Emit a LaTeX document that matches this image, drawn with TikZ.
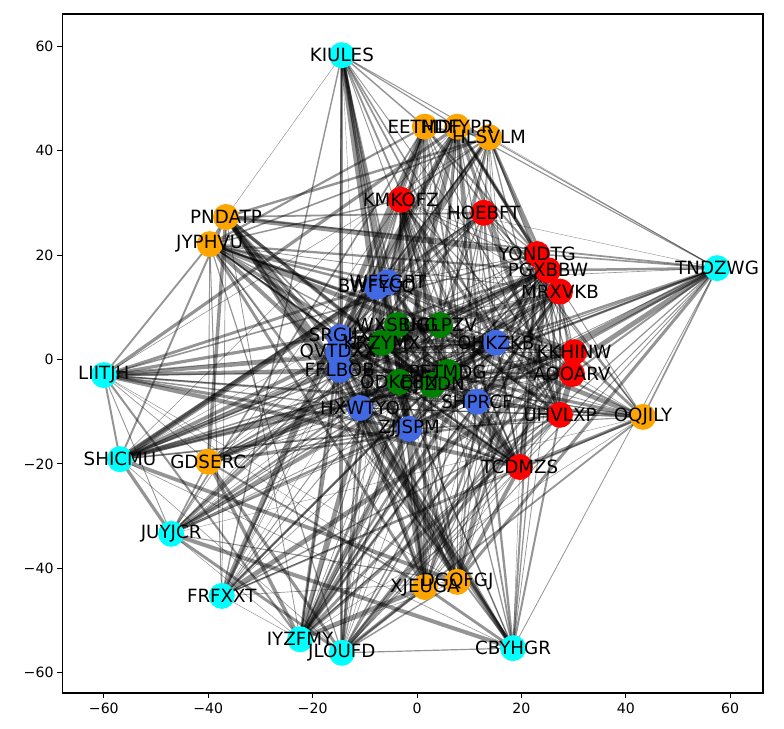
\documentclass[tikz,border=0pt]{standalone}
\usepackage{fontspec}
\setmainfont{DejaVu Sans}
\definecolor{nred}{HTML}{FF0000}
\definecolor{norange}{HTML}{FFA500}
\definecolor{ncyan}{HTML}{00FFFF}
\definecolor{nblue}{HTML}{4169E1}
\definecolor{ngreen}{HTML}{008000}
\tikzset{
  vertex/.style={
    circle,
    inner sep=0pt,
    minimum size=0.66cm
  },
  vlabel/.style={
    inner sep=0pt,
    font=\fontsize{13.2}{15}\selectfont
  },
  edge/.style={draw=black, opacity=0.42},
  ticklabel/.style={inner sep=0pt, font=\fontsize{10.2}{12}\selectfont}
}
% name/x/y/colour
\def\vertlist{KIULES/-14.4/58.3/ncyan, EETMDF/1.5/44.6/norange, HDFYPR/7.7/44.6/norange,
HLSVLM/13.8/42.6/norange, KMKOFZ/-3.1/30.6/nred, HOEBFT/12.8/28.1/nred,
PNDATP/-36.6/27.3/norange, JYPHVU/-39.7/22.1/norange, YONDTG/23.0/20.2/nred,
PGXBBW/25.1/17.1/nred, MRXVKB/27.4/13.0/nred, TNDZWG/57.5/17.5/ncyan,
BWFYCQ/-7.7/13.9/nblue, WFEGPT/-5.6/14.8/nblue, SRGIJX/-14.8/4.3/nblue,
QVTDXX/-15.1/1.4/nblue, FFLBOB/-14.8/-2.0/nblue, WXSBHG/-3.8/6.6/ngreen,
KRZYMX/-6.7/3.2/ngreen, UGLPZV/4.4/6.6/ngreen, PETMDG/5.9/-2.4/ngreen,
ODKEBN/-3.4/-4.3/ngreen, QJIZDN/2.9/-4.9/ngreen, OHKZKB/15.1/3.2/nblue,
KKHINW/30.1/1.4/nred, AOOARV/29.7/-2.8/nred, UHVLXP/27.4/-10.6/nred,
OQJILY/43.3/-11.0/norange, SHPRCF/11.5/-8.1/nblue, HXWTYO/-10.9/-9.3/nblue,
ZJJSPM/-1.5/-13.3/nblue, TCDMZS/19.7/-20.6/nred, LIITJH/-60.0/-3.0/ncyan,
SHICMU/-56.9/-19.1/ncyan, GDSERC/-40.0/-19.6/norange, JUYJCR/-47.1/-33.4/ncyan,
FRFXXT/-37.4/-45.3/ncyan, IYZFMY/-22.4/-53.6/ncyan, JLOUFD/-14.4/-56.2/ncyan,
CBYHGR/18.4/-55.3/ncyan, XJEUGA/1.5/-43.6/norange, DGQFGJ/7.7/-42.6/norange}
\begin{document}
\begin{tikzpicture}[x=0.1326cm, y=0.1326cm]
  \useasboundingbox (-79.89,-70.79) rectangle (70.31,68.87);

  % axes
  \draw[line width=0.8pt] (-68,-63.89) rectangle (66.28,66.19);
  \foreach \v/\t in {-60/−60, -40/−40, -20/−20, 0/0, 20/20, 40/40, 60/60} {
    \draw[line width=0.6pt] (\v,-63.89) -- ++(0,-3.6pt);
    \node[ticklabel, anchor=north] (xt\v) at ([yshift=-7pt]\v,-63.89) {\t};
    \draw[line width=0.6pt] (-68,\v) -- ++(-3.6pt,0);
    \node[ticklabel, anchor=east] (yt\v) at ([xshift=-6pt]-68,\v) {\t};
  }

  \foreach \n/\x/\y/\c in \vertlist
    \coordinate (\n) at (\x,\y);

  % edges
  \pgfmathsetseed{2718}
  \foreach \a/\xa/\ya/\ca [count=\i] in \vertlist {
    \foreach \b/\xb/\yb/\cb [count=\j] in \vertlist {
      \ifnum\j>\i
        \pgfmathsetmacro\pick{rnd}
        \pgfmathsetmacro\wid{0.3+4.2*rnd*rnd}
        \ifdim\pick pt<0.55pt
          \draw[edge, line width=\wid pt] (\a) -- (\b);
        \fi
      \fi
    }
  }

  \foreach \n/\x/\y/\c in \vertlist
    \node[vertex, fill=\c] (\n-c) at (\n) {};
  \foreach \n/\x/\y/\c in \vertlist
    \node[vlabel] (\n-t) at (\n) {\n};
\end{tikzpicture}
\end{document}
